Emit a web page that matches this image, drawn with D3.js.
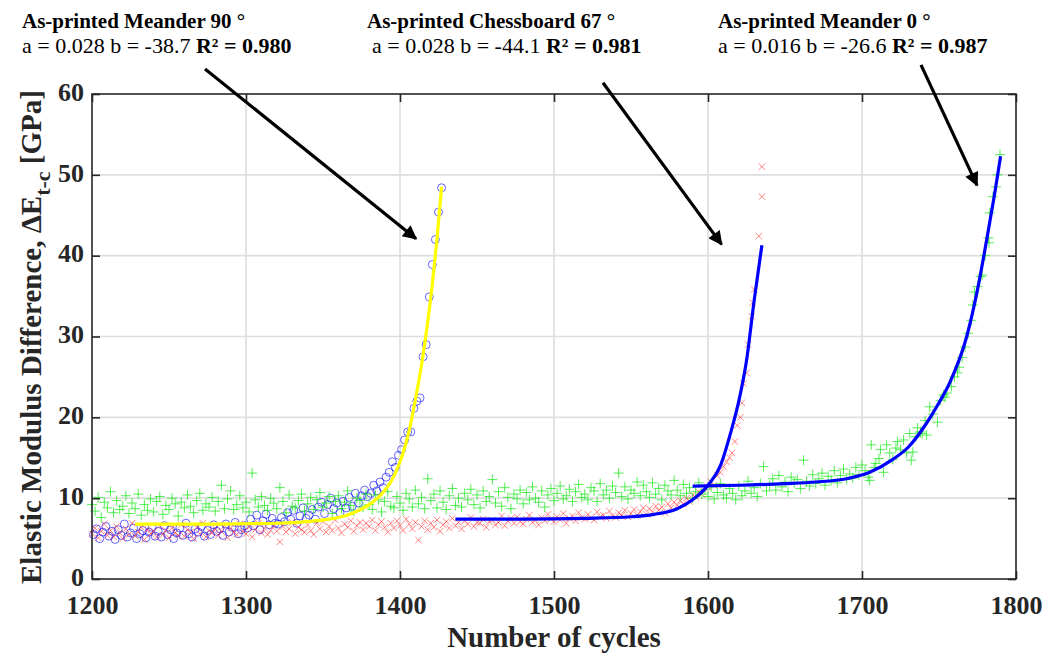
<!DOCTYPE html>
<html><head><meta charset="utf-8">
<script src="https://cdn.jsdelivr.net/npm/d3@7/dist/d3.min.js"></script>
<style>html,body{margin:0;padding:0;background:#fff;}svg{display:block;}</style>
</head><body>
<svg id="chart" width="1047" height="653"></svg>
<script>
// ---------- DATA ----------
const xTicks = [1200,1300,1400,1500,1600,1700,1800];
const yTicks = [0,10,20,30,40,50,60];

// As-printed Meander 90 (blue circles): cycles 1201,1203,...,1427
const m90Start = 1201, m90Step = 2;
const m90Values = [
 5.5,6.2,5.0,5.8,6.5,5.3,5.9,4.9,6.1,5.4,
 6.8,5.2,5.7,6.3,5.0,5.6,6.0,5.1,5.8,6.4,
 5.3,5.9,5.2,6.6,5.5,6.1,5.0,5.7,6.3,5.4,
 6.9,5.6,5.2,6.2,5.8,6.5,5.3,6.0,5.5,6.7,
 5.9,6.2,5.4,6.8,5.8,6.4,7.0,5.6,6.1,6.6,
 6.3,7.4,6.6,7.9,6.1,7.2,8.0,6.7,7.5,6.9,
 6.8,7.6,7.1,8.2,7.4,8.5,6.9,7.8,8.8,7.5,
 7.9,8.6,7.4,8.9,9.5,8.1,9.2,10.0,8.7,9.4,
 8.2,9.6,8.8,10.1,9.0,10.6,9.4,10.3,11.0,10.2,
 10.6,11.6,10.9,12.0,11.3,12.6,13.2,14.5,13.8,15.3,
 16.0,17.2,18.2,18.2,21.1,22.0,22.4,27.5,29.0,34.9,
 38.9,42.0,45.4,48.4
];

// As-printed Chessboard 67 (red crosses): cycles 1200,1202,...,1598 + tail
const cbStart = 1200, cbStep = 2;
const cbValues = [
 5.6,6.3,5.1,5.9,6.8,5.4,6.0,5.2,6.5,5.7,
 5.0,6.2,5.5,6.9,5.3,5.8,6.4,4.9,6.1,5.6,
 5.9,5.2,6.6,5.5,6.0,5.1,6.3,5.7,5.4,6.7,
 5.3,6.1,5.8,5.0,6.4,5.6,6.9,5.2,6.0,5.7,
 6.2,5.4,5.9,6.6,5.1,6.3,5.8,5.5,6.8,5.9,
 5.6,6.4,5.2,6.1,6.9,5.7,6.3,5.5,6.0,6.6,
 5.9,4.6,6.5,5.8,6.2,7.0,5.6,6.4,6.1,5.8,
 6.7,6.0,5.5,6.9,6.2,7.1,5.8,6.5,6.0,7.3,
 6.3,5.7,6.8,6.4,7.2,5.9,6.6,7.0,6.1,6.9,
 6.5,7.3,6.0,6.7,7.1,6.4,5.8,6.9,6.3,7.2,
 6.6,6.0,7.4,6.8,6.2,7.0,4.8,6.5,7.2,6.1,
 6.9,6.4,7.3,5.9,6.7,7.1,6.3,7.5,6.6,7.0,
 6.2,7.2,6.8,7.6,6.5,7.0,6.9,7.4,6.4,7.1,
 7.3,6.7,7.0,7.8,6.6,7.2,7.5,6.9,7.7,7.1,
 6.8,7.4,7.9,7.0,7.3,6.7,7.6,7.2,8.0,7.4,
 7.1,7.7,7.3,8.1,6.9,7.5,7.8,7.2,8.2,7.6,
 7.4,8.0,7.6,7.3,8.3,7.7,7.9,7.5,8.4,7.8,
 7.6,8.2,7.9,8.5,7.7,8.1,8.6,7.9,8.3,8.8,
 8.0,8.7,8.3,9.0,8.5,8.9,8.2,9.3,8.8,9.5,
 9.1,9.7,9.3,10.0,9.6,10.4,10.1,10.8,10.5,11.2
];
const cbTailCycles = [1600,1602,1604,1606,1608,1610,1612,1614,1615.6,1617.5,1619,1621,1622,1623,1625,1626,1628.5,1629,1630,1633,1635,1635];
const cbTailValues = [11.4,12.0,11.6,12.8,13.2,13.9,14.5,15.0,15.6,17.0,19.0,20.0,21.8,24.2,25.5,29.0,32.5,34.2,35.8,42.4,47.3,51.0];

// As-printed Meander 0 (green plus): cycles 1200,1202,...,1700 + tail
const m0Start = 1200, m0Step = 2;
const m0Values = [
 9.2,8.4,10.1,7.6,9.5,8.8,10.8,8.2,9.7,8.6,
 9.0,10.3,8.1,9.4,8.7,10.5,7.9,9.2,8.5,9.9,
 8.3,9.6,10.2,8.0,9.1,8.6,10.0,9.3,7.8,9.5,
 8.8,10.4,9.0,8.2,9.7,10.6,8.5,9.3,8.9,10.1,
 8.4,9.6,11.6,8.7,9.9,10.9,8.6,9.2,10.3,8.8,
 9.5,8.3,13.1,9.8,8.9,10.2,9.1,8.5,10.0,9.4,
 8.7,11.3,9.6,8.2,10.4,9.0,8.8,9.7,10.5,8.4,
 9.3,10.1,8.6,9.8,10.7,8.9,9.4,10.2,8.1,9.6,
 10.3,8.7,9.5,10.9,9.1,8.4,10.0,9.7,8.9,10.5,
 9.2,8.6,10.4,9.8,8.3,9.6,10.8,9.0,8.8,10.2,
 9.4,8.5,10.6,9.9,8.9,11.0,9.3,10.1,8.7,12.4,
 9.7,10.5,8.8,10.9,9.5,8.6,10.3,11.2,9.1,10.0,
 8.9,10.6,9.8,11.1,9.2,10.4,8.8,10.9,9.6,10.2,
 12.3,9.4,10.8,9.0,11.3,10.1,8.7,10.5,9.9,11.0,
 9.3,10.7,9.8,11.4,10.0,9.5,10.9,8.9,10.4,11.2,
 9.7,10.6,11.5,9.9,10.3,11.1,9.6,10.8,11.7,10.1,
 10.5,9.8,11.3,10.9,9.6,11.8,10.4,11.0,10.0,11.5,
 10.7,13.1,10.2,11.4,9.9,11.0,10.6,12.0,10.3,11.6,
 10.8,10.1,11.9,10.5,11.2,9.8,11.6,10.9,10.4,12.2,
 11.0,10.3,11.7,10.6,11.3,10.0,10.8,11.9,10.5,11.1,
 10.2,11.4,9.9,10.7,11.8,10.4,10.0,11.2,10.6,9.8,
 11.5,10.3,10.9,12.1,10.6,11.3,10.2,11.8,13.9,10.9,
 11.6,12.4,11.0,12.8,11.4,12.0,10.8,12.6,11.9,12.3,
 11.2,14.7,12.1,11.5,12.9,11.8,12.4,13.1,11.6,12.7,
 12.2,13.4,11.9,12.8,13.6,12.3,13.0,12.5,13.8,12.9,
 14.1
];
const m0TailCycles = [1702,1704,1705,1706,1708,1709,1711,1712,1714,1716,1718,1720,1722,1723,1725,1727,1729,1731,1732,1733,1735,1736,1738,1739,1741,1742,1744,1746,1749,1751,1753,1754,1755,1758,1760,1762,1763,1765,1767,1769,1771,1772,1773,1775,1777,1778,1780,1782,1782.5,1783,1785,1787,1788,1789.6];
const m0TailValues = [13.4,12.6,12.2,16.6,13.8,14.3,14.9,16.0,13.2,16.6,15.6,14.8,16.2,17.0,16.0,17.2,15.6,18.0,14.7,15.7,17.6,18.7,18.2,18.0,19.6,17.8,21.3,20.4,19.4,22.1,22.8,22.5,23.0,23.8,25.0,25.5,26.2,27.4,28.7,30.4,32.0,33.9,35.5,36.2,37.4,37.6,40.0,42.2,41.6,45.3,47.3,48.5,50.0,52.5];

// Fitted curves
const fitM90Cycles = [1228,1280,1320,1345,1360,1370,1380,1388,1394,1399,1403,1406,1410,1414,1418,1421,1424,1427];
const fitM90Values = [6.8,6.8,6.9,7.2,7.6,8.2,9.2,10.5,12.0,14.0,16.2,18.4,22.2,26.5,31.8,36.5,42.0,48.5];
const fitCbCycles = [1436,1480,1520,1550,1565,1580,1590,1600,1608,1615,1620,1625,1630,1635];
const fitCbValues = [7.4,7.4,7.5,7.7,8.0,8.7,9.8,11.6,14.0,18.3,22.0,27.0,34.5,41.3];
const fitM0Cycles = [1590,1620,1650,1670,1690,1705,1720,1730,1742,1750,1757,1768,1775,1781,1786,1790];
const fitM0Values = [11.5,11.6,11.8,12.0,12.4,13.2,14.8,16.3,19.3,21.8,24.3,30.0,35.8,42.0,47.5,52.3];

// Annotations
const annTitles = ["As-printed Meander 90 °","As-printed Chessboard 67 °","As-printed Meander 0 °"];
const annParams = ["a = 0.028 b = -38.7 ","a = 0.028 b = -44.1 ","a = 0.016 b = -26.6 "];
const annR2 = ["R² = 0.980","R² = 0.981","R² = 0.987"];
// arrows in data units: start -> tip
const arrowFrom = [[1273.4,63.1],[1531.8,61.4],[1738.3,63.6]];
const arrowTo = [[1410.4,42.1],[1608.8,41.4],[1774.7,48.7]];
</script>
<script>
const svg = d3.select("#chart");
const L=92,R=1016,T=94,B=579;
const x = d3.scaleLinear().domain([1200,1800]).range([L,R]);
const y = d3.scaleLinear().domain([0,60]).range([B,T]);
const serif = "'Liberation Serif','Times New Roman',serif";

// grid
const g = svg.append("g");
g.selectAll(".gx").data(xTicks.slice(1,-1)).enter().append("line")
  .attr("x1",d=>x(d)).attr("x2",d=>x(d)).attr("y1",T).attr("y2",B)
  .attr("stroke","#dedede").attr("stroke-width",1.6);
g.selectAll(".gy").data(yTicks.slice(1,-1)).enter().append("line")
  .attr("y1",d=>y(d)).attr("y2",d=>y(d)).attr("x1",L).attr("x2",R)
  .attr("stroke","#dedede").attr("stroke-width",1.6);

// data
const m90 = m90Values.map((v,i)=>[m90Start+i*m90Step,v]);
const cb = cbValues.map((v,i)=>[cbStart+i*cbStep,v]).concat(cbTailCycles.map((c,i)=>[c,cbTailValues[i]]));
const m0 = m0Values.map((v,i)=>[m0Start+i*m0Step,v]).concat(m0TailCycles.map((c,i)=>[c,m0TailValues[i]]));

svg.append("g").selectAll("circle").data(m90).enter().append("circle")
  .attr("cx",d=>x(d[0])).attr("cy",d=>y(d[1])).attr("r",4)
  .attr("fill","none").attr("stroke","#0000ff").attr("stroke-width",0.8).attr("stroke-opacity",0.75);

const s=3.2;
svg.append("g").selectAll("path").data(cb).enter().append("path")
  .attr("d",d=>{const px=x(d[0]),py=y(d[1]);return `M${px-s},${py-s}L${px+s},${py+s}M${px-s},${py+s}L${px+s},${py-s}`;})
  .attr("stroke","#ff2020").attr("stroke-width",0.8).attr("stroke-opacity",0.7).attr("fill","none");

const p=5;
svg.append("g").selectAll("path").data(m0).enter().append("path")
  .attr("d",d=>{const px=x(d[0]),py=y(d[1]);return `M${px-p},${py}L${px+p},${py}M${px},${py-p}L${px},${py+p}`;})
  .attr("stroke","#1ee81e").attr("stroke-width",1).attr("stroke-opacity",0.75).attr("fill","none");

// fits
const line = d3.line().x(d=>x(d[0])).y(d=>y(d[1])).curve(d3.curveMonotoneX);
function fit(cs,vs,col){
  svg.append("path").datum(cs.map((c,i)=>[c,vs[i]])).attr("d",line)
   .attr("fill","none").attr("stroke",col).attr("stroke-width",3.2);
}
fit(fitM90Cycles,fitM90Values,"#ffff00");
fit(fitCbCycles,fitCbValues,"#0000ff");
fit(fitM0Cycles,fitM0Values,"#0000ff");

// box
svg.append("rect").attr("x",L).attr("y",T).attr("width",R-L).attr("height",B-T)
  .attr("fill","none").attr("stroke","#262626").attr("stroke-width",1.6);

// axes
function style(sel){
  sel.select(".domain").remove();
  sel.selectAll(".tick line").attr("stroke","#262626").attr("stroke-width",1.6);
  sel.selectAll(".tick text").attr("font-family",serif).attr("font-weight","bold")
    .attr("font-size",26).attr("fill","#262626");
}
svg.append("g").attr("transform",`translate(0,${B})`)
  .call(d3.axisBottom(x).tickValues(xTicks).tickFormat(d3.format("d")).tickSize(-8).tickPadding(17)).call(style);
const yAx = svg.append("g").attr("transform",`translate(${L},0)`)
  .call(d3.axisLeft(y).tickValues(yTicks).tickSize(-8).tickPadding(8)).call(style);
yAx.selectAll(".tick text").attr("dy","0.24em");
svg.append("g").attr("transform",`translate(0,${T})`)
  .call(d3.axisTop(x).tickValues(xTicks).tickFormat("").tickSize(-8)).call(style);
svg.append("g").attr("transform",`translate(${R},0)`)
  .call(d3.axisRight(y).tickValues(yTicks).tickFormat("").tickSize(-8)).call(style);

// axis titles
svg.append("text").attr("x",554).attr("y",647).attr("text-anchor","middle")
  .attr("font-family",serif).attr("font-weight","bold").attr("font-size",29).attr("fill","#262626")
  .text("Number of cycles");
const yl = svg.append("text").attr("transform","translate(41,337) rotate(-90)").attr("text-anchor","middle")
  .attr("font-family",serif).attr("font-weight","bold").attr("font-size",29).attr("fill","#262626");
yl.append("tspan").text("Elastic Modulus Difference, ΔE");
yl.append("tspan").attr("font-size",22).attr("dy",9).text("t-c");
yl.append("tspan").attr("dy",-9).text(" [GPa]");

// annotations
const annX1 = [22,367,718], annX2=[22,372,718];
annTitles.forEach((t,i)=>{
  svg.append("text").attr("x",annX1[i]).attr("y",28).attr("font-family",serif)
    .attr("font-weight","bold").attr("font-size",21).attr("fill","#000").text(t);
  const tx = svg.append("text").attr("x",annX2[i]).attr("y",53).attr("font-family",serif)
    .attr("font-size",22).attr("fill","#000");
  tx.append("tspan").text(annParams[i]);
  tx.append("tspan").attr("font-weight","bold").text(annR2[i]);
});

// arrows
svg.append("defs").append("marker").attr("id","ah").attr("viewBox","0 0 10 10")
  .attr("refX",9).attr("refY",5).attr("markerWidth",5).attr("markerHeight",4.4)
  .attr("orient","auto").attr("markerUnits","strokeWidth")
  .append("path").attr("d","M0,0L10,5L0,10Z").attr("fill","#000");
arrowFrom.forEach((a,i)=>{
  const b=arrowTo[i];
  svg.append("line").attr("x1",x(a[0])).attr("y1",y(a[1])).attr("x2",x(b[0])).attr("y2",y(b[1]))
    .attr("stroke","#000").attr("stroke-width",3.2).attr("marker-end","url(#ah)");
});
</script>
</body></html>
